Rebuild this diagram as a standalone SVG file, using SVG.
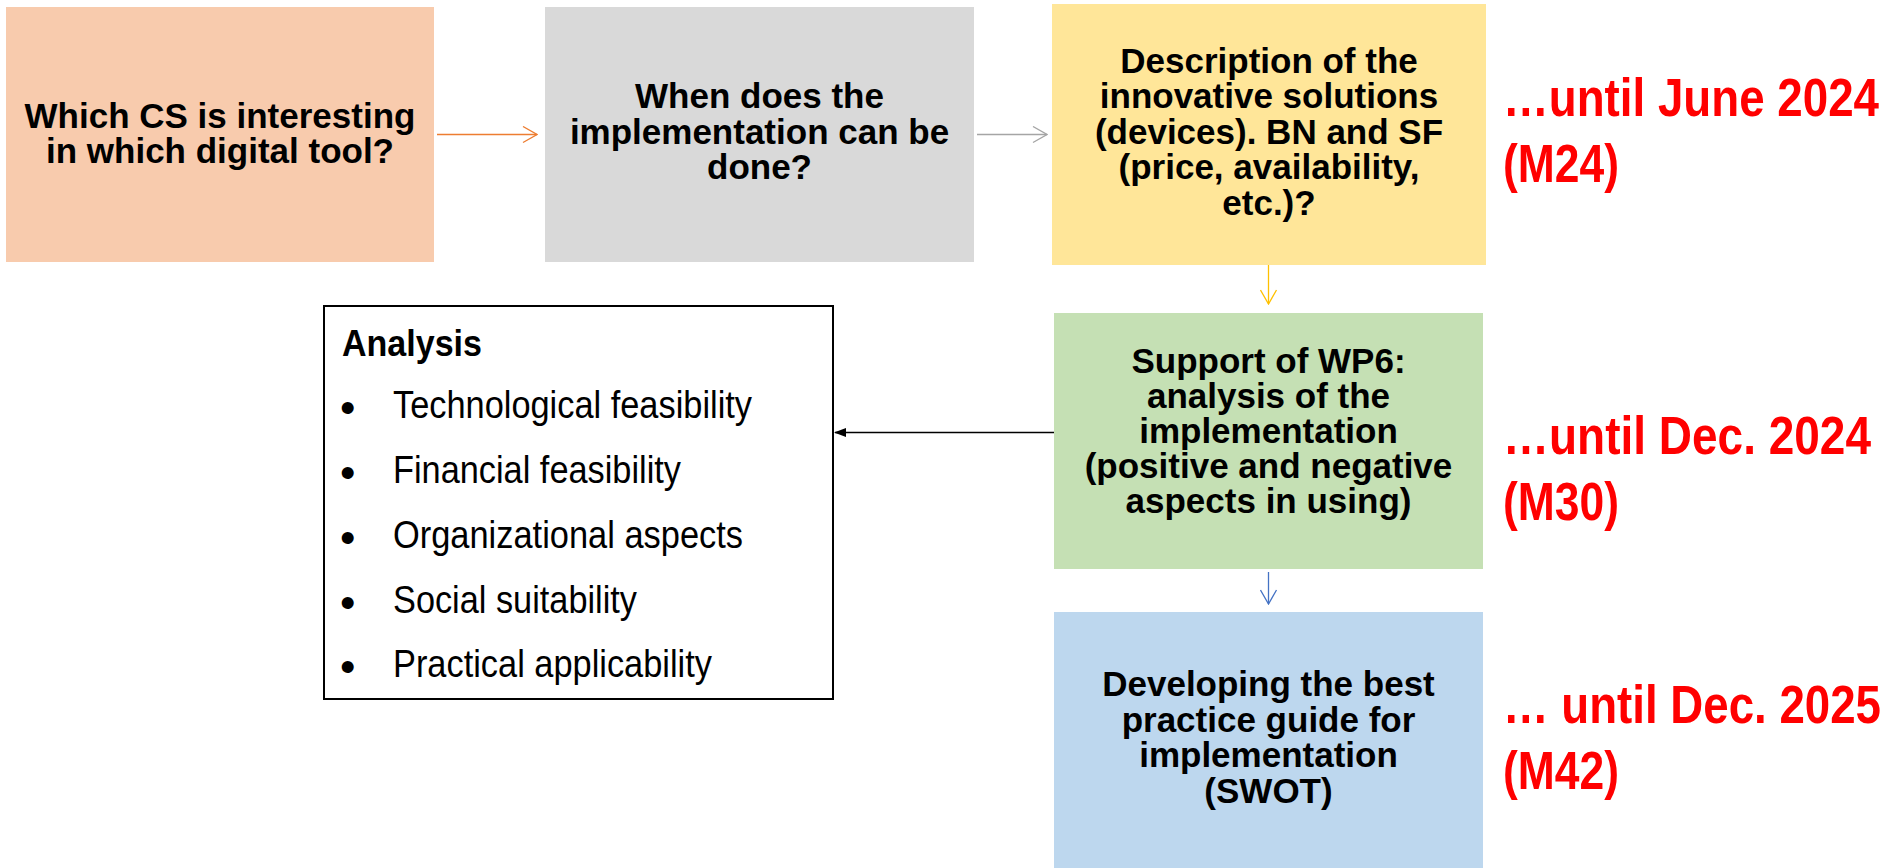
<svg xmlns="http://www.w3.org/2000/svg" width="1894" height="868" viewBox="0 0 1894 868">
<style>
.bt{font-family:"Liberation Sans",Arial,sans-serif;font-weight:bold;font-size:35px;fill:#000;text-anchor:middle}
.red{font-family:"Liberation Sans",Arial,sans-serif;font-weight:bold;font-size:53px;fill:#FF0000}
.it{font-family:"Liberation Sans",Arial,sans-serif;font-size:38px;fill:#000}
.hd{font-family:"Liberation Sans",Arial,sans-serif;font-weight:bold;font-size:36px;fill:#000}
.bu{font-family:"Liberation Sans",Arial,sans-serif;font-size:44px;fill:#000}
.ln{fill:none;stroke-width:1.3}
</style>
<defs>
<marker id="mo" markerUnits="userSpaceOnUse" markerWidth="16" markerHeight="18" viewBox="0 0 16 18" refX="15" refY="9" orient="auto"><path d="M1,1 L15,9 L1,17" fill="none" stroke="#ED7D31" stroke-width="1.3"/></marker>
<marker id="mg" markerUnits="userSpaceOnUse" markerWidth="16" markerHeight="18" viewBox="0 0 16 18" refX="15" refY="9" orient="auto"><path d="M1,1 L15,9 L1,17" fill="none" stroke="#A5A5A5" stroke-width="1.3"/></marker>
<marker id="my" markerUnits="userSpaceOnUse" markerWidth="16" markerHeight="18" viewBox="0 0 16 18" refX="15" refY="9" orient="auto"><path d="M1,1 L15,9 L1,17" fill="none" stroke="#FFC000" stroke-width="1.3"/></marker>
<marker id="mb" markerUnits="userSpaceOnUse" markerWidth="16" markerHeight="18" viewBox="0 0 16 18" refX="15" refY="9" orient="auto"><path d="M1,1 L15,9 L1,17" fill="none" stroke="#4472C4" stroke-width="1.3"/></marker>
<marker id="mk" markerUnits="userSpaceOnUse" markerWidth="12" markerHeight="10" viewBox="0 0 12 10" refX="11" refY="5" orient="auto"><path d="M0,0.5 L12,5 L0,9.5 Z" fill="#000"/></marker>
</defs>
<rect width="1894" height="868" fill="#FFFFFF"/>

<g id="connectors">
<line class="ln" x1="437" y1="134.5" x2="537" y2="134.5" stroke="#ED7D31" marker-end="url(#mo)"/>
<line class="ln" x1="977" y1="134.5" x2="1047" y2="134.5" stroke="#A5A5A5" marker-end="url(#mg)"/>
<line class="ln" x1="1268.5" y1="265" x2="1268.5" y2="304" stroke="#FFC000" marker-end="url(#my)"/>
<line class="ln" x1="1268.5" y1="572" x2="1268.5" y2="604" stroke="#4472C4" marker-end="url(#mb)"/>
<line class="ln" x1="1054" y1="432.5" x2="835" y2="432.5" stroke="#000" marker-end="url(#mk)"/>
</g>

<g id="node-cs">
<rect x="6" y="7" width="428" height="255" fill="#F8CBAD"/>
<text class="bt" x="220" y="128">Which CS is interesting</text>
<text class="bt" x="220" y="163">in which digital tool?</text>
</g>

<g id="node-when">
<rect x="545" y="7" width="429" height="255" fill="#D9D9D9"/>
<text class="bt" x="759.5" y="108">When does the</text>
<text class="bt" x="759.5" y="143.5">implementation can be</text>
<text class="bt" x="759.5" y="179">done?</text>
</g>

<g id="node-desc">
<rect x="1052" y="4" width="434" height="261" fill="#FFE699"/>
<text class="bt" x="1269" y="72.5">Description of the</text>
<text class="bt" x="1269" y="108">innovative solutions</text>
<text class="bt" x="1269" y="143.5">(devices). BN and SF</text>
<text class="bt" x="1269" y="179">(price, availability,</text>
<text class="bt" x="1269" y="214.5">etc.)?</text>
</g>

<g id="node-support">
<rect x="1054" y="313" width="429" height="256" fill="#C5E0B4"/>
<text class="bt" x="1268.5" y="373">Support of WP6:</text>
<text class="bt" x="1268.5" y="408">analysis of the</text>
<text class="bt" x="1268.5" y="443">implementation</text>
<text class="bt" x="1268.5" y="478">(positive and negative</text>
<text class="bt" x="1268.5" y="513">aspects in using)</text>
</g>

<g id="node-guide">
<rect x="1054" y="612" width="429" height="256" fill="#BDD7EE"/>
<text class="bt" x="1268.5" y="696">Developing the best</text>
<text class="bt" x="1268.5" y="731.5">practice guide for</text>
<text class="bt" x="1268.5" y="767">implementation</text>
<text class="bt" x="1268.5" y="802.5">(SWOT)</text>
</g>

<g id="node-analysis">
<rect x="324" y="306" width="509" height="393" fill="#FFFFFF" stroke="#000" stroke-width="2"/>
<text class="hd" x="342" y="356" textLength="140" lengthAdjust="spacingAndGlyphs">Analysis</text>
<text class="bu" x="340" y="423">•</text>
<text class="it" x="393" y="418" textLength="359" lengthAdjust="spacingAndGlyphs">Technological feasibility</text>
<text class="bu" x="340" y="488">•</text>
<text class="it" x="393" y="483" textLength="288" lengthAdjust="spacingAndGlyphs">Financial feasibility</text>
<text class="bu" x="340" y="553">•</text>
<text class="it" x="393" y="548" textLength="350" lengthAdjust="spacingAndGlyphs">Organizational aspects</text>
<text class="bu" x="340" y="618">•</text>
<text class="it" x="393" y="613" textLength="244" lengthAdjust="spacingAndGlyphs">Social suitability</text>
<text class="bu" x="340" y="682">•</text>
<text class="it" x="393" y="677" textLength="319" lengthAdjust="spacingAndGlyphs">Practical applicability</text>
</g>

<g id="label-m24">
<text class="red" x="1503" y="116" textLength="376" lengthAdjust="spacingAndGlyphs">…until June 2024</text>
<text class="red" x="1503" y="182" textLength="116" lengthAdjust="spacingAndGlyphs">(M24)</text>
</g>
<g id="label-m30">
<text class="red" x="1503" y="454" textLength="368" lengthAdjust="spacingAndGlyphs">…until Dec. 2024</text>
<text class="red" x="1503" y="520" textLength="116" lengthAdjust="spacingAndGlyphs">(M30)</text>
</g>
<g id="label-m42">
<text class="red" x="1503" y="723" textLength="378" lengthAdjust="spacingAndGlyphs">… until Dec. 2025</text>
<text class="red" x="1503" y="789" textLength="116" lengthAdjust="spacingAndGlyphs">(M42)</text>
</g>
</svg>
